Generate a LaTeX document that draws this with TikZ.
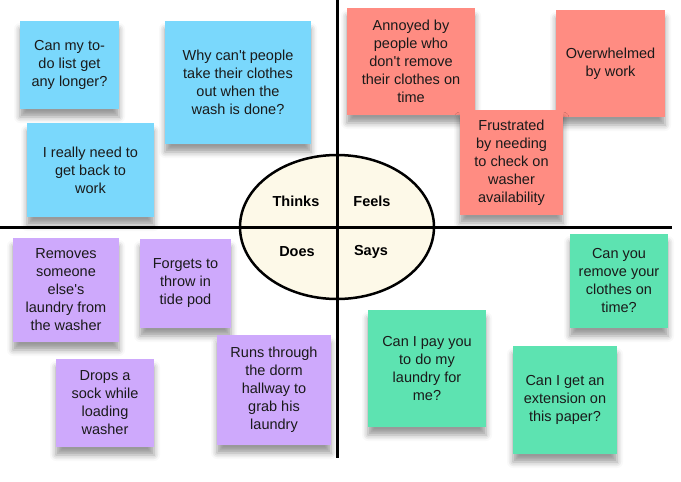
\documentclass[tikz,border=0pt]{standalone}
\usepackage{fontspec}
\setmainfont{Liberation Sans}
\usetikzlibrary{shapes.geometric,shadows.blur}
\definecolor{noteblue}{HTML}{7AD8FC}
\definecolor{notered}{HTML}{FF8C82}
\definecolor{notepurple}{HTML}{CEA9FC}
\definecolor{notegreen}{HTML}{5DE3B1}
\definecolor{cream}{HTML}{FDF9E8}
\definecolor{inktext}{HTML}{1A1A1A}
\tikzset{
  note/.style={rectangle, inner sep=0pt, align=center, text=inktext,
    font=\fontsize{14.5}{18}\selectfont,
    blur shadow={shadow xshift=0pt, shadow yshift=-8pt, shadow blur radius=6pt, shadow opacity=40}},
  axisline/.style={line width=3pt, black},
  quadlabel/.style={font=\fontsize{14.5}{18}\selectfont\bfseries, text=black, inner sep=0pt},
}
\newcommand{\apos}{\textquotesingle}
\newcommand{\notebox}[7]{% name, x1, y1, x2, y2, color, text
  \node[note, fill=#6, minimum width={(#4-#2)*1pt}, minimum height={(#5-#3)*1pt}]
    (#1) at ({(#2+#4)/2},{(#3+#5)/2}) {#7};}
\begin{document}
\begin{tikzpicture}[x=1pt,y=-1pt]
\useasboundingbox (0,0) rectangle (681,482);
\node[ellipse, draw=black, line width=2.5pt, fill=cream, minimum width=194pt, minimum height=144pt, inner sep=0pt] (center) at (337,227) {};
\coordinate (vtop) at (337,0);
\coordinate (vbot) at (337,458);
\coordinate (hleft) at (0,227);
\coordinate (hright) at (672,227);
\draw[axisline] (vtop) -- (vbot);
\draw[axisline] (hleft) -- (hright);
\node[quadlabel] (thinks) at (296,201) {Thinks};
\node[quadlabel] (feels) at (372,201) {Feels};
\node[quadlabel] (does) at (297,252) {Does};
\node[quadlabel] (says) at (371,252) {Says};
% Thinks
\notebox{t1}{20}{21}{119}{109}{noteblue}{Can my to-\\do list get\\any longer?}
\notebox{t2}{165}{21}{311}{144}{noteblue}{Why can\apos t people\\take their clothes\\out when the\\wash is done?}
\notebox{t3}{27}{123}{154}{217}{noteblue}{I really need to\\get back to\\work}
% Feels
\notebox{f1}{347}{8}{475}{115}{notered}{Annoyed by\\people who\\don\apos t remove\\their clothes on\\time}
\notebox{f2}{556}{10}{665}{117}{notered}{Overwhelmed\\by work}
\notebox{f3}{460}{110}{563}{215}{notered}{Frustrated\\by needing\\to check on\\washer\\availability}
% Does
\notebox{d1}{13}{238}{119}{342}{notepurple}{Removes\\someone\\else\apos s\\laundry from\\the washer}
\notebox{d2}{140}{239}{231}{328}{notepurple}{Forgets to\\throw in\\tide pod}
\notebox{d3}{56}{359}{154}{447}{notepurple}{Drops a\\sock while\\loading\\washer}
\notebox{d4}{217}{335}{331}{445}{notepurple}{Runs through\\the dorm\\hallway to\\grab his\\laundry}
% Says
\notebox{s1}{570}{234}{668}{328}{notegreen}{Can you\\remove your\\clothes on\\time?}
\notebox{s2}{368}{310}{486}{427}{notegreen}{Can I pay you\\to do my\\laundry for\\me?}
\notebox{s3}{513}{346}{617}{454}{notegreen}{Can I get an\\extension on\\this paper?}
\end{tikzpicture}
\end{document}
